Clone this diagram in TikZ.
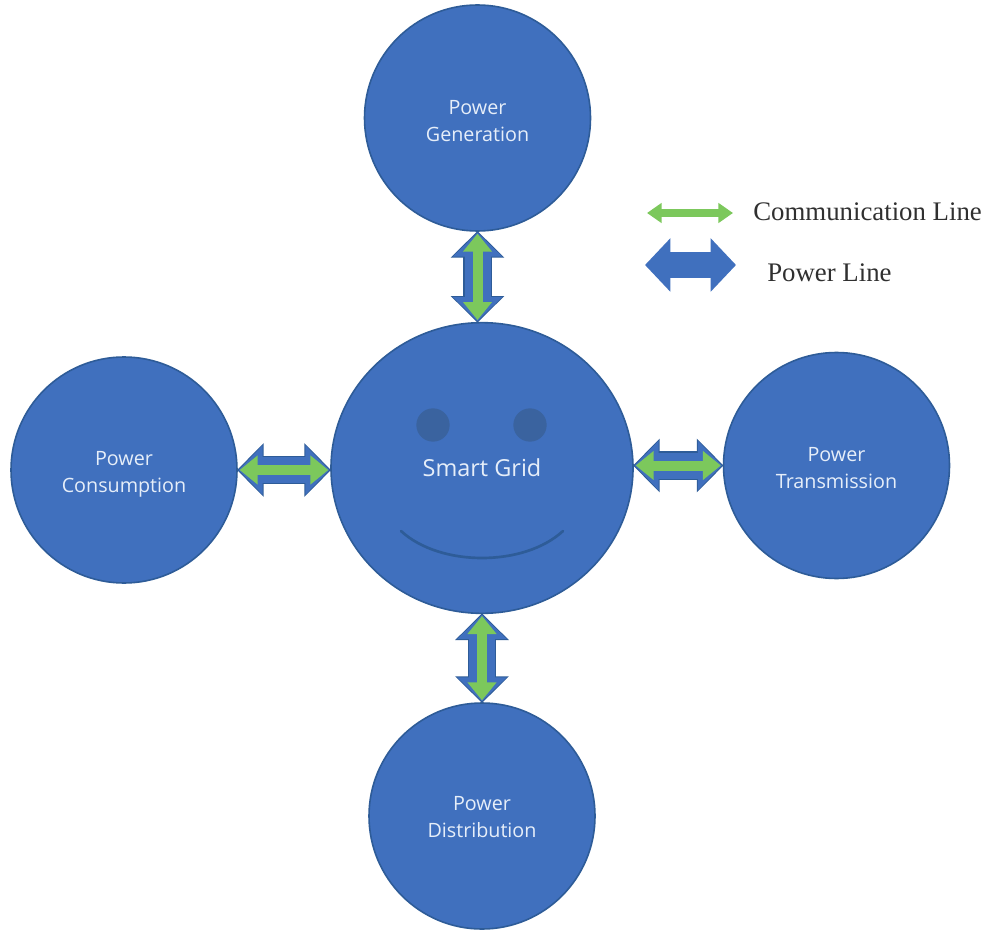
\documentclass[tikz,border=0pt]{standalone}
\usepackage{fontspec}
\setmainfont{Liberation Serif}
\newfontfamily\labelfont{Open Sans}
\usetikzlibrary{arrows.meta,shapes.geometric}
\definecolor{gridblue}{HTML}{4070BE}
\definecolor{edgeblue}{HTML}{2E5C98}
\definecolor{eyeblue}{HTML}{3A639F}
\definecolor{linegreen}{HTML}{7CC85C}
\definecolor{labelwhite}{HTML}{E6EEF9}
\definecolor{legendtext}{HTML}{303030}
\tikzset{
  gridnode/.style={circle,minimum size=169.5pt,inner sep=0pt,outer sep=0pt,fill=gridblue,draw=edgeblue,line width=1.2pt},
  gridlabel/.style={inner sep=0pt,text=labelwhite,align=center,font=\labelfont\fontsize{14.8}{20}\selectfont},
  hubnode/.style={ellipse,minimum width=226.5pt,minimum height=218pt,inner sep=0pt,outer sep=0pt,fill=gridblue,draw=edgeblue,line width=1.2pt,text=labelwhite,font=\labelfont\fontsize{17.6}{21}\selectfont},
  eyenode/.style={circle,minimum size=25pt,inner sep=0pt,fill=eyeblue},
  legendtxt/.style={text=legendtext,inner sep=0pt,font=\fontsize{20.1}{24}\selectfont},
  greenpart/.style={draw=linegreen,line width=7.5pt,shorten >=2pt,shorten <=2pt,
    arrows={Triangle[width=21pt,length=13.5pt,fill=linegreen,color=linegreen]-Triangle[width=21pt,length=13.5pt,fill=linegreen,color=linegreen]}},
  powerline/.style={draw=gridblue,line width=19.5pt,shorten >=1.2pt,shorten <=1.2pt,
    arrows={Triangle[width=36pt,length=18pt,fill=gridblue,color=gridblue]-Triangle[width=36pt,length=18pt,fill=gridblue,color=gridblue]},
    preaction={draw=edgeblue,line width=21.5pt,shorten >=0pt,shorten <=0pt,
      arrows={Triangle[width=39pt,length=20pt,fill=edgeblue,color=edgeblue]-Triangle[width=39pt,length=20pt,fill=edgeblue,color=edgeblue]}},
    postaction={greenpart}},
  legendgreen/.style={draw=linegreen,line width=6pt,
    arrows={Triangle[width=14.5pt,length=11pt,fill=linegreen,color=linegreen]-Triangle[width=14.5pt,length=11pt,fill=linegreen,color=linegreen]}},
  legendpower/.style={draw=gridblue,line width=20pt,
    arrows={Triangle[width=39pt,length=19pt,fill=gridblue,color=gridblue]-Triangle[width=39pt,length=19pt,fill=gridblue,color=gridblue]}}
}
\begin{document}
\begin{tikzpicture}[x=0.75pt,y=-0.75pt]
\path[use as bounding box,fill=white] (0,0) rectangle (987,930);
\node[gridnode,label={[gridlabel,yshift=-2.5pt]center:Power\\Generation}] (gen) at (477.5,118) {};
\node[gridnode,label={[gridlabel,yshift=-3pt]center:Power\\Consumption}] (con) at (124,470) {};
\node[gridnode,label={[gridlabel,yshift=-2pt]center:Power\\Transmission}] (tra) at (836.5,465.5) {};
\node[gridnode,label={[gridlabel,yshift=-1pt]center:Power\\Distribution}] (dis) at (482,816) {};
\node[hubnode] (hub) at (482,468) {Smart Grid};
\node[eyenode] (eyeL) at (433,425) {};
\node[eyenode] (eyeR) at (530,425) {};
\coordinate (smileL) at (401,531);
\coordinate (smileR) at (563,531);
\draw[edgeblue,line width=2pt,line cap=round] (smileL) .. controls (440,567) and (524,567) .. (smileR);
\draw[powerline] (gen.south) -- (gen.south |- hub.north);
\draw[powerline] (dis.north) -- (dis.north |- hub.south);
\draw[powerline] (con.east) -- (con.east -| hub.west);
\draw[powerline] (tra.west) -- (tra.west -| hub.east);
\coordinate (lgA) at (647,213);
\coordinate (lgB) at (733,213);
\coordinate (lpA) at (645,265);
\coordinate (lpB) at (736,265);
\draw[legendgreen] (lgA) -- (lgB);
\draw[legendpower] (lpA) -- (lpB);
\node[legendtxt,anchor=west] (commlabel) at (753,212) {Communication Line};
\node[legendtxt,anchor=west] (powerlabel) at (767,273) {Power Line};
\end{tikzpicture}
\end{document}
